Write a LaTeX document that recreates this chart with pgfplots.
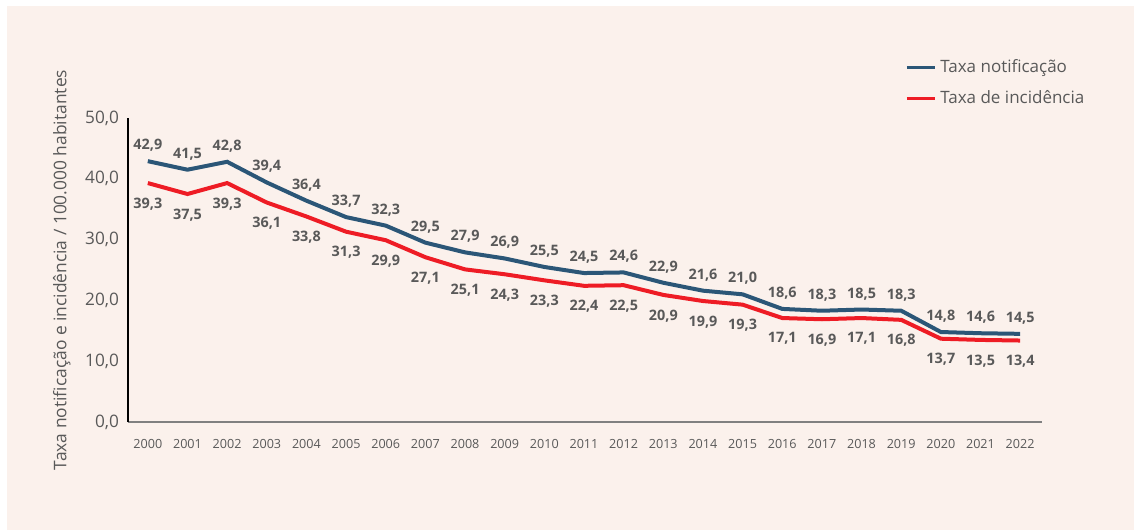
\documentclass[border=0pt]{standalone}
\usepackage{pgfplots}
\pgfplotsset{compat=1.18}
\usepackage{fontspec}
\setmainfont{Open Sans}
\definecolor{peach}{HTML}{FBF1EC}
\definecolor{txtgray}{HTML}{595959}
\definecolor{notif}{HTML}{2B5677}
\definecolor{incid}{HTML}{EE1C25}

\pgfplotstableread{
ano notif incid
2000 42.9 39.3
2001 41.5 37.5
2002 42.8 39.3
2003 39.4 36.1
2004 36.4 33.8
2005 33.7 31.3
2006 32.3 29.9
2007 29.5 27.1
2008 27.9 25.1
2009 26.9 24.3
2010 25.5 23.3
2011 24.5 22.4
2012 24.6 22.5
2013 22.9 20.9
2014 21.6 19.9
2015 21.0 19.3
2016 18.6 17.1
2017 18.3 16.9
2018 18.5 17.1
2019 18.3 16.8
2020 14.8 13.7
2021 14.6 13.5
2022 14.5 13.4
}\dados

\pgfkeys{/pgf/number format/virg/.style={/pgf/number format/fixed, /pgf/number format/fixed zerofill,
    /pgf/number format/precision=1, /pgf/number format/use comma}}

\begin{document}
\begin{tikzpicture}
\fill[white] (0,0) rectangle (567pt,265pt);
\fill[peach] (3.5pt,0) rectangle (567pt,262pt);
\begin{axis}[
    at={(64pt,54pt)}, anchor=south west,
    scale only axis,
    width=457pt, height=152pt,
    xmin=1999.5, xmax=2022.55,
    ymin=0, ymax=50,
    xtick={2000,...,2022},
    ytick={0,10,...,50},
    axis x line=bottom, axis y line=left,
    x axis line style={-, draw=gray, line width=0.6pt},
    y axis line style={-, draw=black, line width=1pt},
    major tick length=0pt,
    /pgf/number format/assume math mode=true,
    xticklabel style={font=\fontsize{6.3}{7}\selectfont, text=txtgray, yshift=-5pt,
        /pgf/number format/1000 sep={}},
    yticklabel style={font=\fontsize{8.6}{9}\selectfont, text=txtgray, xshift=-1pt,
        /pgf/number format/virg},
    ylabel={Taxa notificação e incidência / 100.000 habitantes},
    ylabel style={at={(axis description cs:-0.0725,0.5)}, anchor=center,
        font=\fontsize{8.7}{10}\selectfont, text=txtgray},
    nodes near coords,
    every node near coord/.append style={font=\bfseries\fontsize{7.2}{8}\selectfont, text=txtgray,
        /pgf/number format/virg},
    legend style={at={(axis description cs:0.85,1.22)}, anchor=north west,
        draw=none, fill=none, font=\fontsize{8.5}{10}\selectfont, text=txtgray,
        row sep=3.5pt, inner xsep=0pt,
        /tikz/every even column/.append style={column sep=1pt}},
    legend cell align=left,
    legend image code/.code={\draw[#1, line width=1.5pt] (0pt,0pt) -- (14pt,0pt);},
]
\addplot[notif, line width=2pt, nodes near coords style={anchor=south, yshift=0.5pt}]
    table[x=ano, y=notif] {\dados};
\addlegendentry{Taxa notificação}
\addplot[incid, line width=2pt, nodes near coords style={anchor=north, yshift=-3pt}]
    table[x=ano, y=incid] {\dados};
\addlegendentry{Taxa de incidência}
\end{axis}
\end{tikzpicture}
\end{document}
